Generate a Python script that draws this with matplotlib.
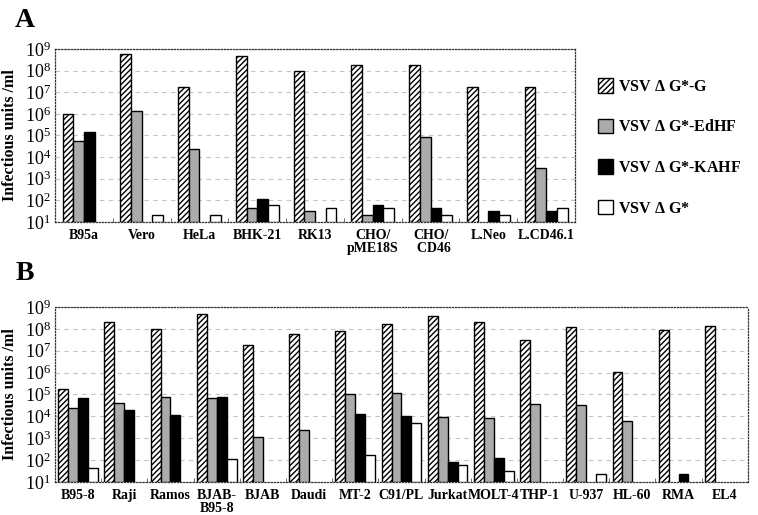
"""Infectious titres of VSV dG* pseudotypes on different cell lines (panels A and B)."""
import numpy as np
import matplotlib
matplotlib.use("Agg")
import matplotlib.pyplot as plt
from matplotlib.patches import Patch
from matplotlib.ticker import LogLocator, FixedLocator

plt.rcParams["font.family"] = ["Liberation Serif", "DejaVu Serif"]
plt.rcParams["mathtext.fontset"] = "custom"
plt.rcParams["mathtext.rm"] = "Liberation Serif"
plt.rcParams["mathtext.it"] = "Liberation Serif:italic"
plt.rcParams["mathtext.bf"] = "Liberation Serif:bold"
plt.rcParams["hatch.linewidth"] = 1.0

# ---- data (None = no bar drawn) ----
cells_a = ["B95a", "Vero", "HeLa", "BHK-21", "RK13", "CHO/\npME18S", "CHO/\n  CD46", "L.Neo", "L.CD46.1"]
a_g = [9.5e5, 5.9e8, 1.8e7, 4.9e8, 9.6e7, 1.9e8, 1.8e8, 1.8e7, 1.8e7]
a_edhf = [5.6e4, 1.4e6, 2.5e4, 45, 31, 21, 8.4e4, None, 3.3e3]
a_kahf = [1.4e5, None, None, 115, None, 63, 45, 31, 31]
a_empty = [None, 22, 22, 63, 45, 45, 22, 22, 45]

cells_b = ["B95-8", "Raji", "Ramos", "BJAB-\nB95-8", "BJAB", "Daudi", "MT-2", "C91/PL",
           "Jurkat", "MOLT-4", "THP-1", "U-937", "HL-60", "RMA", "EL4"]
b_g = [1.7e5, 2.0e8, 1.0e8, 4.6e8, 1.8e7, 5.6e7, 7.9e7, 1.6e8,
       4.0e8, 2.0e8, 3.2e7, 1.25e8, 1.07e6, 9.1e7, 1.4e8]
b_edhf = [2.3e4, 4.2e4, 7.4e4, 6.8e4, 1.1e3, 2.5e3, 1.0e5, 1.2e5,
          9.3e3, 8.4e3, 3.8e4, 3.3e4, 5.9e3, None, None]
b_kahf = [6.9e4, 1.9e4, 1.2e4, 7.8e4, None, None, 1.3e4, 1.07e4,
          81, 126, None, None, None, 22, None]
b_empty = [44, None, None, 110, None, None, 174, 4.8e3,
           57, 31, None, 22, None, None, None]

series_labels = [r"VSV $\mathbf{\Delta}$ G*-G", r"VSV $\mathbf{\Delta}$ G*-EdHF",
                 r"VSV $\mathbf{\Delta}$ G*-KAHF", r"VSV $\mathbf{\Delta}$ G*"]
styles = [
    dict(facecolor="white", edgecolor="black", hatch="//////"),
    dict(facecolor="#ababab", edgecolor="black"),
    dict(facecolor="black", edgecolor="black"),
    dict(facecolor="white", edgecolor="black"),
]

BASE = 10.0


def draw_panel(ax, cells, series, width):
    x = np.arange(len(cells))
    for i, (vals, st) in enumerate(zip(series, styles)):
        for xi, v in zip(x, vals):
            if v is None:
                continue
            ax.bar(xi + (i - 1.5) * width, v - BASE, bottom=BASE, width=width,
                   linewidth=1.0, **st, zorder=3)
    ax.set_yscale("log")
    ax.set_ylim(10, 1e9)
    ax.set_xlim(-0.5, len(cells) - 0.5)
    ax.yaxis.set_major_locator(LogLocator(base=10, numticks=20))
    ax.yaxis.set_minor_locator(FixedLocator([]))
    ax.tick_params(axis="y", length=0, pad=3, labelsize=13)
    ax.set_xticks(x)
    ax.set_xticklabels(cells, fontsize=10, fontweight="bold", linespacing=1.0)
    ax.xaxis.set_minor_locator(FixedLocator(np.arange(0.5, len(cells) - 0.5, 1)))
    ax.tick_params(axis="x", which="major", length=0, pad=5)
    ax.tick_params(axis="x", which="minor", length=3, direction="in", color="#555555")
    ax.grid(axis="y", which="major", linestyle=(0, (4, 4)), color="#c4c4c4", linewidth=0.8, zorder=0)
    for sp in ax.spines.values():
        sp.set_linestyle((0, (1, 1.5)))
        sp.set_linewidth(0.9)
        sp.set_color("#333333")
    ax.set_ylabel("Infectious units /ml", fontsize=11.5, fontweight="bold", labelpad=5)


fig = plt.figure(figsize=(7.58, 5.15), dpi=100)
ax_a = fig.add_axes([0.0726, 0.5689, 0.686, 0.336])
ax_b = fig.add_axes([0.0726, 0.0641, 0.914, 0.3398])

draw_panel(ax_a, cells_a, [a_g, a_edhf, a_kahf, a_empty], 0.185)
draw_panel(ax_b, cells_b, [b_g, b_edhf, b_kahf, b_empty], 0.215)

fig.text(0.02, 0.935, "A", fontsize=20, fontweight="bold", va="bottom")
fig.text(0.02, 0.445, "B", fontsize=20, fontweight="bold", va="bottom")

handles = [Patch(linewidth=1.0, **st) for st in styles]
fig.legend(handles, series_labels, loc="upper left", bbox_to_anchor=(0.77, 0.876),
           frameon=False, prop=dict(size=11.5, weight="bold"),
           handlelength=0.95, handleheight=1.0, handletextpad=0.3, labelspacing=1.5)

fig.savefig("out.png", dpi=100)
